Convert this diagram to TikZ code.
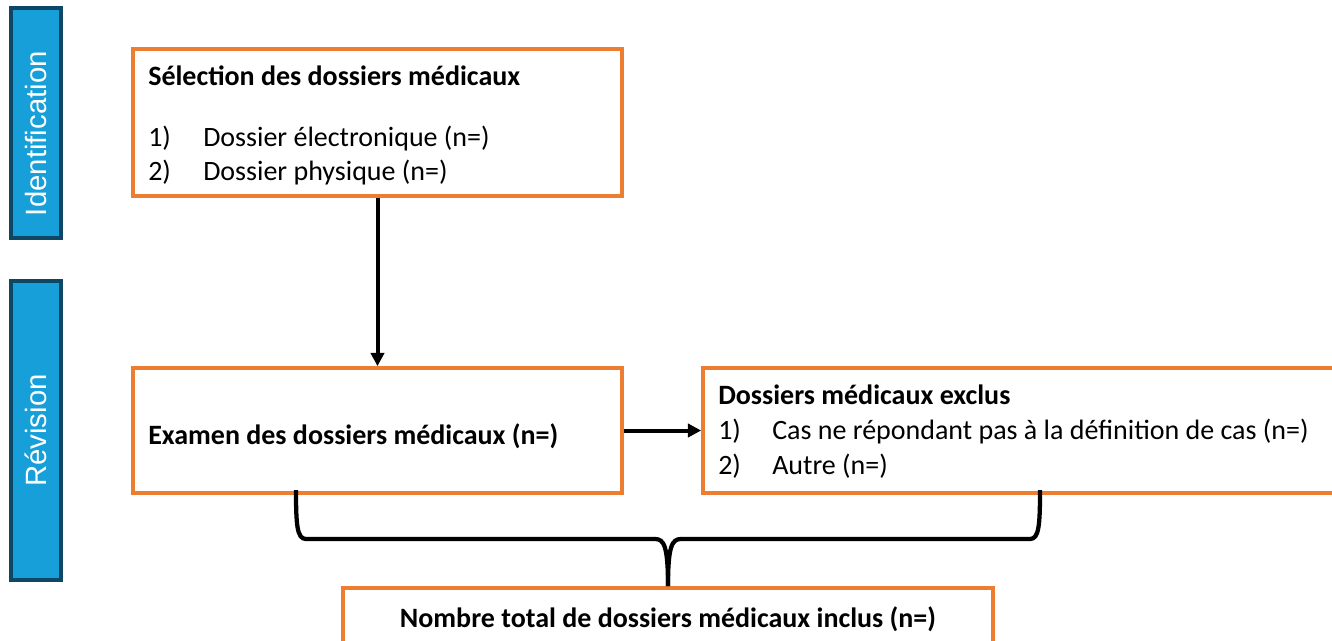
\documentclass[tikz,border=0pt]{standalone}
\usepackage{fontspec}
\setmainfont{Carlito}
\newfontfamily\barfont{Liberation Sans}
\usetikzlibrary{arrows.meta}
\definecolor{boxorange}{HTML}{ED7D31}
\definecolor{barblue}{HTML}{169FD8}
\definecolor{barnavy}{HTML}{0E4766}
\tikzset{
  stage/.style={draw=barnavy, line width=2.6pt, fill=barblue, rotate=90,
    minimum height=37.5pt, text=white, font=\barfont\fontsize{22}{26}\selectfont},
  box/.style={draw=boxorange, line width=2.8pt, inner sep=0pt},
  txt/.style={anchor=base west, inner sep=0pt, font=\fontsize{21}{25}\selectfont},
  title/.style={txt, font=\fontsize{21}{25}\selectfont\bfseries},
  link/.style={line width=3pt, -{Triangle[length=10pt,width=10pt]}},
  brace/.style={line width=3.2pt, line join=round},
}
\begin{document}
\begin{tikzpicture}[x=0.75pt, y=-0.75pt]
  \useasboundingbox (0,0) rectangle (1332,640);
  \clip (0,0) rectangle (1332,640);

  % stages on the left
  \node[stage, minimum width=172.5pt] (ident) at (36,123) {Identification\hspace*{16pt}};
  \node[stage, minimum width=224.25pt] (revis) at (36,430.5) {Révision};

  % boxes
  \node[box, minimum width=366.75pt, minimum height=110.25pt] (sel) at (377.5,122.5) {};
  \node[box, minimum width=366.75pt, minimum height=93.75pt] (exam) at (377.5,430.5) {};
  \node[box, minimum width=481.5pt, minimum height=93.75pt] (excl) at (1024,430.5) {};
  \node[box, minimum width=487.5pt, minimum height=54pt] (total) at (668,624) {};

  % texts
  \node[title] (selT) at (148,85) {Sélection des dossiers médicaux};
  \node[txt] (selA) at (148,146) {1)};
  \node[txt] at (203,146) {Dossier électronique (n=)};
  \node[txt] (selB) at (148,180) {2)};
  \node[txt] at (203,180) {Dossier physique (n=)};
  \node[title] (examT) at (148,444) {Examen des dossiers médicaux (n=)};
  \node[title] (exclT) at (718,404) {Dossiers médicaux exclus};
  \node[txt] (exclA) at (718,439) {1)};
  \node[txt] at (772,439) {Cas ne répondant pas à la définition de cas (n=)};
  \node[txt] (exclB) at (718,474) {2)};
  \node[txt] at (772,474) {Autre (n=)};
  \node[title, anchor=base] (totalT) at (668,627) {Nombre total de dossiers médicaux inclus (n=)};

  % arrows
  \draw[link] (sel.south) -- (exam.north);
  \draw[link] (exam.east) -- (excl.west);

  % brace joining both boxes to the total
  \coordinate (braceL) at (296,490);
  \coordinate (braceR) at (1040,490);
  \draw[brace] (braceL) .. controls (296,525) and (297,539) .. (306,539) -- (655,539)
    .. controls (664,539) and (668,546) .. (total.north);
  \draw[brace] (braceR) .. controls (1040,525) and (1039,539) .. (1030,539) -- (681,539)
    .. controls (672,539) and (668,546) .. (total.north);
\end{tikzpicture}
\end{document}
